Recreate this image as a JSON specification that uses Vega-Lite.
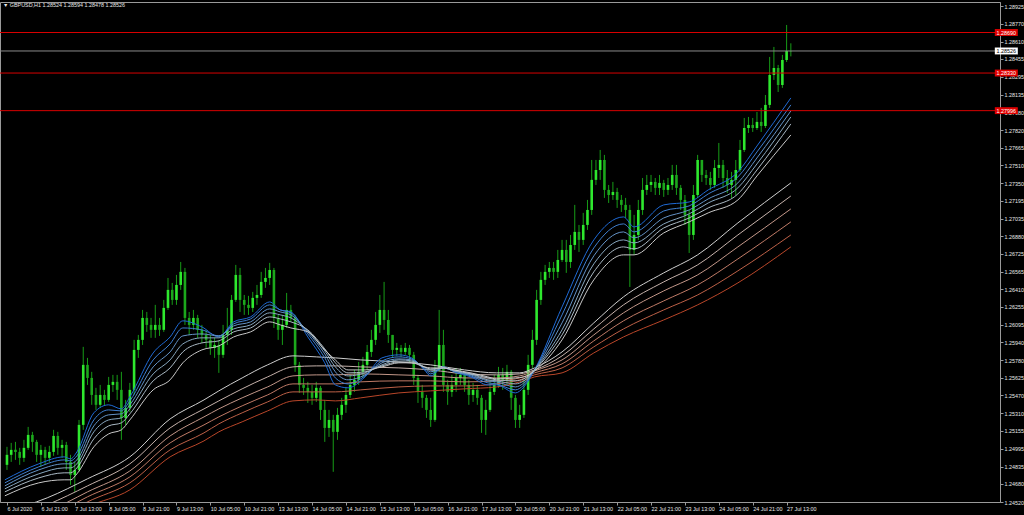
{
"$schema": "https://vega.github.io/schema/vega-lite/v6.json",
"usermeta": {"embedOptions": {"actions": false}},
"width": 1000,
"height": 500,
"autosize": "none",
"padding": {"left": 0, "top": 2, "right": 24, "bottom": 13},
"background": "#000000",
"title": {"text": "▼  GBPUSD,H1  1.28524 1.28594 1.28478 1.28526", "anchor": "start", "frame": "group", "orient": "top", "offset": -6, "fontSize": 5.4, "font": "Liberation Sans", "fontWeight": "normal", "color": "#e8e8e8", "dx": 3},
"config": {
  "view": {"stroke": "#9a9a9a", "strokeWidth": 1, "fill": "#000000"},
  "axis": {"domainColor": "#9a9a9a", "tickColor": "#9a9a9a", "labelColor": "#e8e8e8", "labelFont": "Liberation Sans", "labelFontSize": 5.4, "grid": false, "title": null, "tickSize": 3, "labelPadding": 1, "labelOverlap": false, "labelFlush": false, "labelSeparation": 0}
},
"datasets": {
"candles": [
{"t":0,"o":1.2485,"h":1.2501,"l":1.24805,"c":1.24939},
{"t":2,"o":1.24939,"h":1.25045,"l":1.24876,"c":1.24983},
{"t":4,"o":1.24983,"h":1.25054,"l":1.24894,"c":1.24965},
{"t":6,"o":1.24965,"h":1.25001,"l":1.2485,"c":1.24912},
{"t":8,"o":1.24912,"h":1.25072,"l":1.24876,"c":1.25001},
{"t":10,"o":1.25001,"h":1.25187,"l":1.24983,"c":1.25116},
{"t":12,"o":1.25116,"h":1.25143,"l":1.24965,"c":1.25054},
{"t":14,"o":1.25054,"h":1.25072,"l":1.24876,"c":1.24939},
{"t":16,"o":1.24939,"h":1.25027,"l":1.24832,"c":1.24983},
{"t":18,"o":1.24983,"h":1.2501,"l":1.2485,"c":1.24912},
{"t":20,"o":1.24912,"h":1.25019,"l":1.24876,"c":1.24965},
{"t":22,"o":1.24965,"h":1.25161,"l":1.2493,"c":1.25107},
{"t":24,"o":1.25107,"h":1.25143,"l":1.24939,"c":1.25001},
{"t":26,"o":1.25001,"h":1.25072,"l":1.24912,"c":1.25027},
{"t":28,"o":1.25027,"h":1.25054,"l":1.24805,"c":1.24876},
{"t":30,"o":1.24876,"h":1.24939,"l":1.24672,"c":1.24761},
{"t":32,"o":1.24761,"h":1.24876,"l":1.2461,"c":1.24805},
{"t":34,"o":1.24805,"h":1.25249,"l":1.24788,"c":1.25205},
{"t":36,"o":1.25205,"h":1.25898,"l":1.25161,"c":1.25738},
{"t":38,"o":1.25738,"h":1.258,"l":1.2556,"c":1.25622},
{"t":40,"o":1.25622,"h":1.25676,"l":1.25383,"c":1.25471},
{"t":42,"o":1.25471,"h":1.25534,"l":1.25338,"c":1.25383},
{"t":44,"o":1.25383,"h":1.2556,"l":1.25356,"c":1.25471},
{"t":46,"o":1.25471,"h":1.25516,"l":1.25374,"c":1.25427},
{"t":48,"o":1.25427,"h":1.25631,"l":1.25409,"c":1.2556},
{"t":50,"o":1.2556,"h":1.25649,"l":1.25498,"c":1.25587},
{"t":52,"o":1.25587,"h":1.25649,"l":1.25427,"c":1.25516},
{"t":54,"o":1.25516,"h":1.25676,"l":1.25072,"c":1.25267},
{"t":56,"o":1.25267,"h":1.25427,"l":1.25205,"c":1.25356},
{"t":58,"o":1.25356,"h":1.25578,"l":1.2532,"c":1.25516},
{"t":60,"o":1.25516,"h":1.2596,"l":1.25471,"c":1.25871},
{"t":62,"o":1.25871,"h":1.26004,"l":1.258,"c":1.2596},
{"t":64,"o":1.2596,"h":1.26226,"l":1.25915,"c":1.26155},
{"t":66,"o":1.26155,"h":1.26208,"l":1.26031,"c":1.26093},
{"t":68,"o":1.26093,"h":1.26155,"l":1.25978,"c":1.26049},
{"t":70,"o":1.26049,"h":1.26271,"l":1.25978,"c":1.26093},
{"t":72,"o":1.26093,"h":1.26155,"l":1.25995,"c":1.26049},
{"t":74,"o":1.26049,"h":1.26315,"l":1.26031,"c":1.26244},
{"t":76,"o":1.26244,"h":1.2651,"l":1.26226,"c":1.26404},
{"t":78,"o":1.26404,"h":1.26466,"l":1.26271,"c":1.26315},
{"t":80,"o":1.26315,"h":1.26537,"l":1.26271,"c":1.26448},
{"t":82,"o":1.26448,"h":1.26652,"l":1.26404,"c":1.26564},
{"t":84,"o":1.26564,"h":1.26599,"l":1.26093,"c":1.26155},
{"t":86,"o":1.26155,"h":1.26208,"l":1.26004,"c":1.26093},
{"t":88,"o":1.26093,"h":1.26226,"l":1.26049,"c":1.26155},
{"t":90,"o":1.26155,"h":1.26182,"l":1.25978,"c":1.26049},
{"t":92,"o":1.26049,"h":1.26093,"l":1.25933,"c":1.26004},
{"t":94,"o":1.26004,"h":1.26049,"l":1.25889,"c":1.2596},
{"t":96,"o":1.2596,"h":1.26004,"l":1.25827,"c":1.25889},
{"t":98,"o":1.25889,"h":1.25978,"l":1.258,"c":1.25915},
{"t":100,"o":1.25915,"h":1.2596,"l":1.25667,"c":1.25827},
{"t":102,"o":1.25827,"h":1.26093,"l":1.258,"c":1.26004},
{"t":104,"o":1.26004,"h":1.26244,"l":1.25915,"c":1.26049},
{"t":106,"o":1.26049,"h":1.26359,"l":1.26004,"c":1.26315},
{"t":108,"o":1.26315,"h":1.26626,"l":1.26297,"c":1.26537},
{"t":110,"o":1.26537,"h":1.26599,"l":1.26208,"c":1.26315},
{"t":112,"o":1.26315,"h":1.26359,"l":1.26182,"c":1.26271},
{"t":114,"o":1.26271,"h":1.26351,"l":1.26182,"c":1.26244},
{"t":116,"o":1.26244,"h":1.26386,"l":1.26208,"c":1.26333},
{"t":118,"o":1.26333,"h":1.26448,"l":1.26271,"c":1.26359},
{"t":120,"o":1.26359,"h":1.26564,"l":1.26333,"c":1.26475},
{"t":122,"o":1.26475,"h":1.26599,"l":1.26422,"c":1.2651},
{"t":124,"o":1.2651,"h":1.26644,"l":1.26448,"c":1.26581},
{"t":126,"o":1.26581,"h":1.26599,"l":1.26066,"c":1.26155},
{"t":128,"o":1.26155,"h":1.26182,"l":1.2596,"c":1.26049},
{"t":130,"o":1.26049,"h":1.26182,"l":1.25915,"c":1.26093},
{"t":132,"o":1.26093,"h":1.26377,"l":1.26066,"c":1.26226},
{"t":134,"o":1.26226,"h":1.26271,"l":1.2612,"c":1.26155},
{"t":136,"o":1.26155,"h":1.26182,"l":1.25676,"c":1.25738},
{"t":138,"o":1.25738,"h":1.25764,"l":1.25489,"c":1.2556},
{"t":140,"o":1.2556,"h":1.25622,"l":1.25471,"c":1.25534},
{"t":142,"o":1.25534,"h":1.25587,"l":1.254,"c":1.25498},
{"t":144,"o":1.25498,"h":1.2556,"l":1.25383,"c":1.25445},
{"t":146,"o":1.25445,"h":1.25587,"l":1.25409,"c":1.25534},
{"t":148,"o":1.25534,"h":1.25551,"l":1.25249,"c":1.25338},
{"t":150,"o":1.25338,"h":1.25427,"l":1.25054,"c":1.25178},
{"t":152,"o":1.25178,"h":1.25338,"l":1.25098,"c":1.25249},
{"t":154,"o":1.25249,"h":1.25294,"l":1.24788,"c":1.25143},
{"t":156,"o":1.25143,"h":1.25356,"l":1.25072,"c":1.25294},
{"t":158,"o":1.25294,"h":1.25445,"l":1.25249,"c":1.25383},
{"t":160,"o":1.25383,"h":1.25542,"l":1.25312,"c":1.25471},
{"t":162,"o":1.25471,"h":1.25649,"l":1.25445,"c":1.2556},
{"t":164,"o":1.2556,"h":1.25693,"l":1.25498,"c":1.25605},
{"t":166,"o":1.25605,"h":1.25764,"l":1.2556,"c":1.25676},
{"t":168,"o":1.25676,"h":1.25809,"l":1.25622,"c":1.25738},
{"t":170,"o":1.25738,"h":1.25915,"l":1.25693,"c":1.25853},
{"t":172,"o":1.25853,"h":1.26049,"l":1.25809,"c":1.2596},
{"t":174,"o":1.2596,"h":1.26208,"l":1.25915,"c":1.26093},
{"t":176,"o":1.26093,"h":1.26359,"l":1.26022,"c":1.26226},
{"t":178,"o":1.26226,"h":1.26475,"l":1.26049,"c":1.26137},
{"t":180,"o":1.26137,"h":1.26226,"l":1.25933,"c":1.26004},
{"t":182,"o":1.26004,"h":1.26004,"l":1.25809,"c":1.25871},
{"t":184,"o":1.25871,"h":1.25933,"l":1.25818,"c":1.25889},
{"t":186,"o":1.25889,"h":1.25915,"l":1.25809,"c":1.25853},
{"t":188,"o":1.25853,"h":1.25933,"l":1.25827,"c":1.25889},
{"t":190,"o":1.25889,"h":1.25915,"l":1.25764,"c":1.25827},
{"t":192,"o":1.25827,"h":1.25853,"l":1.2556,"c":1.25622},
{"t":194,"o":1.25622,"h":1.25649,"l":1.254,"c":1.25498},
{"t":196,"o":1.25498,"h":1.2556,"l":1.25356,"c":1.25445},
{"t":198,"o":1.25445,"h":1.25471,"l":1.25267,"c":1.25338},
{"t":200,"o":1.25338,"h":1.25445,"l":1.25187,"c":1.25249},
{"t":202,"o":1.25249,"h":1.25782,"l":1.25232,"c":1.25693},
{"t":204,"o":1.25693,"h":1.26226,"l":1.25676,"c":1.25915},
{"t":206,"o":1.25915,"h":1.26049,"l":1.25498,"c":1.2556},
{"t":208,"o":1.2556,"h":1.25605,"l":1.25383,"c":1.25498},
{"t":210,"o":1.25498,"h":1.25649,"l":1.25454,"c":1.2556},
{"t":212,"o":1.2556,"h":1.25711,"l":1.25498,"c":1.25622},
{"t":214,"o":1.25622,"h":1.25711,"l":1.2556,"c":1.25649},
{"t":216,"o":1.25649,"h":1.25676,"l":1.25498,"c":1.2556},
{"t":218,"o":1.2556,"h":1.25605,"l":1.25383,"c":1.25471},
{"t":220,"o":1.25471,"h":1.25578,"l":1.25409,"c":1.25516},
{"t":222,"o":1.25516,"h":1.2556,"l":1.25383,"c":1.25445},
{"t":224,"o":1.25445,"h":1.25471,"l":1.25134,"c":1.25249},
{"t":226,"o":1.25249,"h":1.25427,"l":1.25116,"c":1.25338},
{"t":228,"o":1.25338,"h":1.25605,"l":1.2532,"c":1.25498},
{"t":230,"o":1.25498,"h":1.25649,"l":1.25471,"c":1.2556},
{"t":232,"o":1.2556,"h":1.2572,"l":1.25534,"c":1.25649},
{"t":234,"o":1.25649,"h":1.25711,"l":1.25516,"c":1.25605},
{"t":236,"o":1.25605,"h":1.25738,"l":1.2556,"c":1.25676},
{"t":238,"o":1.25676,"h":1.25693,"l":1.25338,"c":1.25445},
{"t":240,"o":1.25445,"h":1.25471,"l":1.25178,"c":1.25249},
{"t":242,"o":1.25249,"h":1.25383,"l":1.25178,"c":1.25294},
{"t":244,"o":1.25294,"h":1.25605,"l":1.25267,"c":1.25516},
{"t":246,"o":1.25516,"h":1.25827,"l":1.25471,"c":1.25738},
{"t":248,"o":1.25738,"h":1.26049,"l":1.25711,"c":1.2596},
{"t":250,"o":1.2596,"h":1.26404,"l":1.25915,"c":1.26315},
{"t":252,"o":1.26315,"h":1.26564,"l":1.26271,"c":1.26493},
{"t":254,"o":1.26493,"h":1.26626,"l":1.26448,"c":1.26564},
{"t":256,"o":1.26564,"h":1.26652,"l":1.2651,"c":1.26599},
{"t":258,"o":1.26599,"h":1.26652,"l":1.26493,"c":1.26564},
{"t":260,"o":1.26564,"h":1.26759,"l":1.2651,"c":1.2667},
{"t":262,"o":1.2667,"h":1.26848,"l":1.26652,"c":1.26759},
{"t":264,"o":1.26759,"h":1.26848,"l":1.26555,"c":1.26652},
{"t":266,"o":1.26652,"h":1.26892,"l":1.26599,"c":1.26803},
{"t":268,"o":1.26803,"h":1.27159,"l":1.26759,"c":1.26919},
{"t":270,"o":1.26919,"h":1.26981,"l":1.26741,"c":1.26848},
{"t":272,"o":1.26848,"h":1.27088,"l":1.26803,"c":1.26981},
{"t":274,"o":1.26981,"h":1.27203,"l":1.26937,"c":1.27114},
{"t":276,"o":1.27114,"h":1.27558,"l":1.2707,"c":1.27381},
{"t":278,"o":1.27381,"h":1.27558,"l":1.27336,"c":1.27469},
{"t":280,"o":1.27469,"h":1.27647,"l":1.27381,"c":1.27558},
{"t":282,"o":1.27558,"h":1.27603,"l":1.27221,"c":1.27292},
{"t":284,"o":1.27292,"h":1.27336,"l":1.27176,"c":1.27247},
{"t":286,"o":1.27247,"h":1.27363,"l":1.27203,"c":1.27274},
{"t":288,"o":1.27274,"h":1.2731,"l":1.27132,"c":1.27203},
{"t":290,"o":1.27203,"h":1.27247,"l":1.27096,"c":1.27159},
{"t":292,"o":1.27159,"h":1.27221,"l":1.27043,"c":1.27114},
{"t":294,"o":1.27114,"h":1.27159,"l":1.2643,"c":1.26759},
{"t":296,"o":1.26759,"h":1.2707,"l":1.26715,"c":1.26892},
{"t":298,"o":1.26892,"h":1.27203,"l":1.26848,"c":1.27114},
{"t":300,"o":1.27114,"h":1.27398,"l":1.2707,"c":1.27292},
{"t":302,"o":1.27292,"h":1.27425,"l":1.27247,"c":1.27336},
{"t":304,"o":1.27336,"h":1.27425,"l":1.27274,"c":1.27363},
{"t":306,"o":1.27363,"h":1.27398,"l":1.27247,"c":1.2731},
{"t":308,"o":1.2731,"h":1.27425,"l":1.27247,"c":1.27354},
{"t":310,"o":1.27354,"h":1.27381,"l":1.2723,"c":1.27292},
{"t":312,"o":1.27292,"h":1.27398,"l":1.27247,"c":1.27336},
{"t":314,"o":1.27336,"h":1.27514,"l":1.27292,"c":1.27425},
{"t":316,"o":1.27425,"h":1.27514,"l":1.27247,"c":1.2731},
{"t":318,"o":1.2731,"h":1.27336,"l":1.27114,"c":1.27203},
{"t":320,"o":1.27203,"h":1.27247,"l":1.26981,"c":1.2707},
{"t":322,"o":1.2707,"h":1.27114,"l":1.26732,"c":1.26892},
{"t":324,"o":1.26892,"h":1.27336,"l":1.26848,"c":1.27247},
{"t":326,"o":1.27247,"h":1.27603,"l":1.27221,"c":1.27558},
{"t":328,"o":1.27558,"h":1.27558,"l":1.27363,"c":1.27425},
{"t":330,"o":1.27425,"h":1.27469,"l":1.27336,"c":1.27398},
{"t":332,"o":1.27398,"h":1.27452,"l":1.27292,"c":1.27336},
{"t":334,"o":1.27336,"h":1.27558,"l":1.2731,"c":1.27487},
{"t":336,"o":1.27487,"h":1.27709,"l":1.27398,"c":1.27514},
{"t":338,"o":1.27514,"h":1.27558,"l":1.2731,"c":1.27398},
{"t":340,"o":1.27398,"h":1.27469,"l":1.27265,"c":1.27336},
{"t":342,"o":1.27336,"h":1.27452,"l":1.27221,"c":1.27381},
{"t":344,"o":1.27381,"h":1.27558,"l":1.27247,"c":1.27469},
{"t":346,"o":1.27469,"h":1.27736,"l":1.27452,"c":1.27647},
{"t":348,"o":1.27647,"h":1.27931,"l":1.27629,"c":1.27842},
{"t":350,"o":1.27842,"h":1.2794,"l":1.27798,"c":1.27869},
{"t":352,"o":1.27869,"h":1.27931,"l":1.27807,"c":1.27842},
{"t":354,"o":1.27842,"h":1.27984,"l":1.27825,"c":1.27896},
{"t":356,"o":1.27896,"h":1.2802,"l":1.27807,"c":1.2786},
{"t":358,"o":1.2786,"h":1.28135,"l":1.27842,"c":1.28047},
{"t":360,"o":1.28047,"h":1.28473,"l":1.2802,"c":1.28313},
{"t":362,"o":1.28313,"h":1.28562,"l":1.28269,"c":1.28375},
{"t":364,"o":1.28375,"h":1.28402,"l":1.28162,"c":1.28224},
{"t":366,"o":1.28224,"h":1.28491,"l":1.28198,"c":1.28446},
{"t":368,"o":1.28446,"h":1.28757,"l":1.28428,"c":1.28526},
{"t":370,"o":1.28524,"h":1.28594,"l":1.28478,"c":1.28526}
],
"short": [
{"t":-1,"s1":1.24717,"s2":1.2469,"s3":1.24663,"s4":1.24637,"s5":1.2461,"s6":1.24575},
{"t":15,"s1":1.24859,"s2":1.24832,"s3":1.24805,"s4":1.2477,"s5":1.24734,"s6":1.2469},
{"t":27,"s1":1.24921,"s2":1.24894,"s3":1.24859,"s4":1.24823,"s5":1.24779,"s6":1.24717},
{"t":30,"s1":1.24903,"s2":1.24885,"s3":1.24859,"s4":1.24823,"s5":1.24779,"s6":1.24717},
{"t":33,"s1":1.24965,"s2":1.2493,"s3":1.24894,"s4":1.24859,"s5":1.24823,"s6":1.2477},
{"t":41,"s1":1.25312,"s2":1.25249,"s3":1.25196,"s4":1.25143,"s5":1.25081,"s6":1.2501},
{"t":48,"s1":1.25383,"s2":1.25338,"s3":1.25294,"s4":1.25249,"s5":1.25196,"s6":1.25125},
{"t":54,"s1":1.25347,"s2":1.25329,"s3":1.25303,"s4":1.25267,"s5":1.25223,"s6":1.25161},
{"t":58,"s1":1.25454,"s2":1.25418,"s3":1.25383,"s4":1.25347,"s5":1.25303,"s6":1.25249},
{"t":69,"s1":1.25844,"s2":1.25782,"s3":1.2572,"s4":1.25658,"s5":1.25596,"s6":1.25516},
{"t":77,"s1":1.25986,"s2":1.25924,"s3":1.25853,"s4":1.25782,"s5":1.25711,"s6":1.25605},
{"t":83,"s1":1.26129,"s2":1.26066,"s3":1.25995,"s4":1.25924,"s5":1.25853,"s6":1.25756},
{"t":92,"s1":1.26075,"s2":1.26049,"s3":1.26013,"s4":1.25978,"s5":1.25933,"s6":1.25871},
{"t":100,"s1":1.25986,"s2":1.25995,"s3":1.25995,"s4":1.25978,"s5":1.25951,"s6":1.25906},
{"t":107,"s1":1.2612,"s2":1.26102,"s3":1.26084,"s4":1.26057,"s5":1.26031,"s6":1.25986},
{"t":115,"s1":1.26164,"s2":1.26146,"s3":1.2612,"s4":1.26093,"s5":1.26066,"s6":1.26031},
{"t":124,"s1":1.26297,"s2":1.26271,"s3":1.26235,"s4":1.262,"s5":1.26164,"s6":1.2612},
{"t":129,"s1":1.26226,"s2":1.26226,"s3":1.26208,"s4":1.26182,"s5":1.26146,"s6":1.26093},
{"t":134,"s1":1.26208,"s2":1.262,"s3":1.26182,"s4":1.26155,"s5":1.2612,"s6":1.26066},
{"t":142,"s1":1.25986,"s2":1.26013,"s3":1.26031,"s4":1.2604,"s5":1.26049,"s6":1.26031},
{"t":150,"s1":1.25756,"s2":1.258,"s3":1.25835,"s4":1.25862,"s5":1.2588,"s6":1.25871},
{"t":155,"s1":1.2556,"s2":1.25622,"s3":1.25676,"s4":1.2572,"s5":1.25756,"s6":1.25782},
{"t":161,"s1":1.25534,"s2":1.25569,"s3":1.25605,"s4":1.2564,"s5":1.25667,"s6":1.25693},
{"t":169,"s1":1.25631,"s2":1.2564,"s3":1.25649,"s4":1.25667,"s5":1.25676,"s6":1.25693},
{"t":177,"s1":1.258,"s2":1.25773,"s3":1.25756,"s4":1.25738,"s5":1.25729,"s6":1.2572},
{"t":185,"s1":1.25827,"s2":1.25809,"s3":1.25791,"s4":1.25782,"s5":1.25764,"s6":1.25756},
{"t":191,"s1":1.258,"s2":1.25791,"s3":1.25782,"s4":1.25773,"s5":1.25764,"s6":1.25756},
{"t":197,"s1":1.25693,"s2":1.25702,"s3":1.25711,"s4":1.2572,"s5":1.2572,"s6":1.2572},
{"t":200,"s1":1.2564,"s2":1.25658,"s3":1.25676,"s4":1.25693,"s5":1.25702,"s6":1.25711},
{"t":206,"s1":1.2572,"s2":1.25711,"s3":1.25711,"s4":1.25711,"s5":1.25711,"s6":1.25711},
{"t":211,"s1":1.25676,"s2":1.25684,"s3":1.25684,"s4":1.25684,"s5":1.25693,"s6":1.25693},
{"t":219,"s1":1.25631,"s2":1.2564,"s3":1.25649,"s4":1.25658,"s5":1.25658,"s6":1.25667},
{"t":227,"s1":1.2556,"s2":1.25578,"s3":1.25596,"s4":1.25605,"s5":1.25622,"s6":1.25631},
{"t":231,"s1":1.2556,"s2":1.25569,"s3":1.25587,"s4":1.25596,"s5":1.25605,"s6":1.25614},
{"t":240,"s1":1.25489,"s2":1.25516,"s3":1.25542,"s4":1.25569,"s5":1.25596,"s6":1.25622},
{"t":244,"s1":1.25542,"s2":1.2556,"s3":1.25578,"s4":1.25596,"s5":1.25614,"s6":1.25631},
{"t":249,"s1":1.25693,"s2":1.25693,"s3":1.25693,"s4":1.25693,"s5":1.25693,"s6":1.25684},
{"t":262,"s1":1.26253,"s2":1.26182,"s3":1.26111,"s4":1.26049,"s5":1.26004,"s6":1.2596},
{"t":277,"s1":1.26848,"s2":1.26777,"s3":1.26706,"s4":1.26635,"s5":1.26564,"s6":1.26493},
{"t":291,"s1":1.27052,"s2":1.2699,"s3":1.26919,"s4":1.26848,"s5":1.26786,"s6":1.26715},
{"t":296,"s1":1.26963,"s2":1.26919,"s3":1.26866,"s4":1.26821,"s5":1.26768,"s6":1.26715},
{"t":310,"s1":1.27159,"s2":1.27105,"s3":1.27043,"s4":1.2699,"s5":1.26954,"s6":1.2691},
{"t":322,"s1":1.27185,"s2":1.2715,"s3":1.27114,"s4":1.27079,"s5":1.27043,"s6":1.27008},
{"t":331,"s1":1.27292,"s2":1.27256,"s3":1.27212,"s4":1.27176,"s5":1.27132,"s6":1.27088},
{"t":345,"s1":1.27452,"s2":1.27407,"s3":1.27354,"s4":1.2731,"s5":1.27256,"s6":1.27203},
{"t":354,"s1":1.27682,"s2":1.27629,"s3":1.27576,"s4":1.27523,"s5":1.27469,"s6":1.27416},
{"t":370,"s1":1.28109,"s2":1.28047,"s3":1.27993,"s4":1.2794,"s5":1.27878,"s6":1.2778}
],
"long": [
{"t":-1,"b1":1.24432,"b2":1.24361,"b3":1.24299,"b4":1.24237,"b5":1.24175,"b6":1.24113},
{"t":19,"b1":1.24557,"b2":1.24495,"b3":1.24432,"b4":1.24379,"b5":1.24326,"b6":1.24273},
{"t":38,"b1":1.24726,"b2":1.24663,"b3":1.2461,"b4":1.24566,"b5":1.24521,"b6":1.24477},
{"t":58,"b1":1.24921,"b2":1.24859,"b3":1.24796,"b4":1.24743,"b5":1.2469,"b6":1.24628},
{"t":77,"b1":1.25258,"b2":1.25178,"b3":1.25107,"b4":1.25045,"b5":1.24983,"b6":1.24921},
{"t":93,"b1":1.25427,"b2":1.25347,"b3":1.25276,"b4":1.25205,"b5":1.25134,"b6":1.25063},
{"t":100,"b1":1.25507,"b2":1.25418,"b3":1.25347,"b4":1.25276,"b5":1.25214,"b6":1.25143},
{"t":111,"b1":1.25622,"b2":1.25525,"b3":1.25445,"b4":1.25374,"b5":1.25312,"b6":1.25232},
{"t":123,"b1":1.25738,"b2":1.25631,"b3":1.25542,"b4":1.25471,"b5":1.25409,"b6":1.25329},
{"t":135,"b1":1.25818,"b2":1.2572,"b3":1.2564,"b4":1.25569,"b5":1.25498,"b6":1.25418},
{"t":146,"b1":1.25809,"b2":1.25729,"b3":1.25649,"b4":1.25569,"b5":1.25498,"b6":1.25427},
{"t":155,"b1":1.258,"b2":1.25729,"b3":1.25649,"b4":1.25569,"b5":1.25498,"b6":1.25418},
{"t":167,"b1":1.25782,"b2":1.2572,"b3":1.25658,"b4":1.25587,"b5":1.25516,"b6":1.25445},
{"t":185,"b1":1.25764,"b2":1.25711,"b3":1.25649,"b4":1.25596,"b5":1.25542,"b6":1.25489},
{"t":200,"b1":1.25738,"b2":1.25693,"b3":1.2564,"b4":1.25596,"b5":1.25551,"b6":1.25507},
{"t":216,"b1":1.25693,"b2":1.25658,"b3":1.25622,"b4":1.25587,"b5":1.25551,"b6":1.25525},
{"t":231,"b1":1.25667,"b2":1.25649,"b3":1.25622,"b4":1.25596,"b5":1.25569,"b6":1.25542},
{"t":242,"b1":1.25667,"b2":1.25658,"b3":1.2564,"b4":1.25622,"b5":1.25605,"b6":1.25587},
{"t":249,"b1":1.25711,"b2":1.25693,"b3":1.25684,"b4":1.25667,"b5":1.25649,"b6":1.25631},
{"t":262,"b1":1.25853,"b2":1.25818,"b3":1.25782,"b4":1.25747,"b5":1.25711,"b6":1.25667},
{"t":277,"b1":1.26111,"b2":1.26057,"b3":1.26004,"b4":1.25951,"b5":1.25898,"b6":1.25844},
{"t":291,"b1":1.26342,"b2":1.26271,"b3":1.262,"b4":1.26129,"b5":1.26057,"b6":1.25986},
{"t":310,"b1":1.26555,"b2":1.26475,"b3":1.26395,"b4":1.26306,"b5":1.26226,"b6":1.26137},
{"t":326,"b1":1.26715,"b2":1.26626,"b3":1.26537,"b4":1.26448,"b5":1.26359,"b6":1.26271},
{"t":345,"b1":1.26999,"b2":1.26892,"b3":1.26786,"b4":1.26679,"b5":1.26573,"b6":1.26466},
{"t":370,"b1":1.27354,"b2":1.27238,"b3":1.27123,"b4":1.27008,"b5":1.26892,"b6":1.26786}
],
"levels": [
{"p":1.2869,"lbl":"1.28690","kind":"r"},
{"p":1.28526,"lbl":"1.28526","kind":"w"},
{"p":1.2833,"lbl":"1.28330","kind":"r"},
{"p":1.27996,"lbl":"1.27996","kind":"r"}
]
},
"layer": [
{
  "data": {"name": "candles"},
  "mark": {"type": "rule", "strokeWidth": 1},
  "encoding": {
    "x": {"field": "t", "type": "quantitative", "scale": {"domain": [-0.9346, 466.36], "nice": false, "zero": false},
      "axis": {"orient": "bottom", "values": [0,16,32,48,64,80,96,112,128,144,160,176,192,208,224,240,256,272,288,304,320,336,352,368], "tickCount": 60,
        "labelExpr": "['6 Jul 2020','6 Jul 21:00','7 Jul 13:00','8 Jul 05:00','8 Jul 21:00','9 Jul 13:00','10 Jul 05:00','10 Jul 21:00','13 Jul 13:00','14 Jul 05:00','14 Jul 21:00','15 Jul 13:00','16 Jul 05:00','16 Jul 21:00','17 Jul 13:00','20 Jul 05:00','20 Jul 21:00','21 Jul 13:00','22 Jul 05:00','22 Jul 21:00','23 Jul 13:00','24 Jul 05:00','24 Jul 21:00','27 Jul 13:00'][round(datum.value/16)]",
        "labelAlign": "left", "labelBaseline": "top", "labelOverlap": false, "title": null}},
    "y": {"field": "l", "type": "quantitative", "scale": {"domain": [1.2452, 1.28961], "nice": false, "zero": false},
      "axis": {"orient": "right", "values": [1.2452,1.2468,1.24835,1.24995,1.25155,1.2531,1.2547,1.25625,1.2578,1.2594,1.26095,1.26255,1.2641,1.26565,1.26725,1.2688,1.27035,1.27195,1.2735,1.2751,1.27665,1.2782,1.2798,1.28135,1.28295,1.28455,1.2861,1.2877,1.28925], "tickCount": 60,
        "format": ".5f", "labelAlign": "left", "labelBaseline": "middle", "labelOverlap": false, "title": null}},
    "y2": {"field": "h"},
    "color": {"value": "#179c17"}
  }
},
{
  "data": {"name": "candles"},
  "mark": {"type": "bar", "width": 2.6},
  "encoding": {
    "x": {"field": "t", "type": "quantitative"},
    "y": {"field": "o", "type": "quantitative", "axis": {"title": null, "labelOverlap": false, "tickCount": 60}},
    "y2": {"field": "c"},
    "color": {"condition": {"test": "datum.c >= datum.o", "value": "#2ee82e"}, "value": "#1ca81c"}
  }
},
{
  "data": {"name": "long"},
  "transform": [{"fold": ["b1","b2","b3","b4","b5","b6"], "as": ["k","v"]}],
  "mark": {"type": "line", "strokeWidth": 1, "interpolate": "monotone", "clip": true},
  "encoding": {
    "x": {"field": "t", "type": "quantitative"},
    "y": {"field": "v", "type": "quantitative", "axis": {"title": null, "labelOverlap": false, "tickCount": 60}},
    "color": {"field": "k", "type": "nominal", "legend": null,
      "scale": {"domain": ["s1","s2","s3","s4","s5","s6","b1","b2","b3","b4","b5","b6"],
        "range": ["#1e6ad6","#3f7fcf","#6493c6","#88a8c0","#aab9c4","#c8c8c8","#cfcfcf","#c6b2ab","#c39789","#c07b67","#bd6047","#b94629"]}}
  }
},
{
  "data": {"name": "short"},
  "transform": [{"fold": ["s1","s2","s3","s4","s5","s6"], "as": ["k","v"]}],
  "mark": {"type": "line", "strokeWidth": 1, "interpolate": "monotone", "clip": true},
  "encoding": {
    "x": {"field": "t", "type": "quantitative"},
    "y": {"field": "v", "type": "quantitative", "axis": {"title": null, "labelOverlap": false, "tickCount": 60}},
    "color": {"field": "k", "type": "nominal", "legend": null,
      "scale": {"domain": ["s1","s2","s3","s4","s5","s6","b1","b2","b3","b4","b5","b6"],
        "range": ["#1e6ad6","#3f7fcf","#6493c6","#88a8c0","#aab9c4","#c8c8c8","#cfcfcf","#c6b2ab","#c39789","#c07b67","#bd6047","#b94629"]}}
  }
},
{
  "data": {"name": "levels"},
  "mark": {"type": "rule", "strokeWidth": 1},
  "encoding": {
    "y": {"field": "p", "type": "quantitative", "axis": {"title": null, "labelOverlap": false, "tickCount": 60}},
    "stroke": {"condition": {"test": "datum.kind === 'r'", "value": "#d80000"}, "value": "#8a8a8a"}
  }
},
{
  "data": {"name": "levels"},
  "mark": {"type": "point", "shape": "M-1,-0.3L1,-0.3L1,0.3L-1,0.3Z", "size": 529, "filled": true, "opacity": 1, "strokeWidth": 0},
  "encoding": {
    "x": {"datum": 471.7, "type": "quantitative"},
    "y": {"field": "p", "type": "quantitative", "axis": {"title": null, "labelOverlap": false, "tickCount": 60}},
    "fill": {"condition": {"test": "datum.kind === 'r'", "value": "#e00000"}, "value": "#ffffff"}
  }
},
{
  "data": {"name": "levels"},
  "mark": {"type": "text", "fontSize": 5.4, "font": "Liberation Sans", "align": "center", "baseline": "middle"},
  "encoding": {
    "x": {"datum": 471.7, "type": "quantitative"},
    "y": {"field": "p", "type": "quantitative", "axis": {"title": null, "labelOverlap": false, "tickCount": 60}},
    "text": {"field": "lbl"},
    "color": {"condition": {"test": "datum.kind === 'r'", "value": "#ffffff"}, "value": "#000000"}
  }
}
]
}
